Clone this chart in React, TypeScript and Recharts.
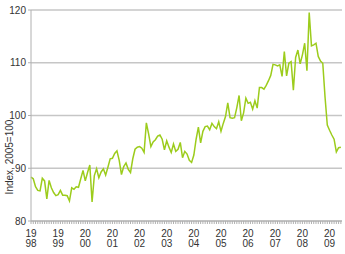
import { CartesianGrid, Line, LineChart, XAxis, YAxis } from "recharts";

// monthly index values, Jan 1998 .. Jun 2009
const values = [
  88.3, 88.0, 86.5, 85.8, 85.7, 88.1, 87.6, 84.2, 87.7, 86.3, 85.4, 84.8,
  85.0, 85.8, 84.9, 84.9, 84.8, 83.8, 86.3, 86.0, 86.5, 86.4, 88.0, 89.6,
  87.6, 89.2, 90.6, 83.6, 88.6, 89.9, 88.2, 89.3, 89.9, 88.7, 90.2, 91.8,
  91.9, 92.8, 93.3, 91.5, 88.8, 90.3, 91.0, 89.8, 89.2, 91.8, 93.6, 94.0,
  94.1, 93.8, 93.0, 98.6, 96.5, 94.1, 95.0, 95.4, 96.1, 96.3, 95.5, 93.5,
  95.2, 94.0, 93.0, 94.6, 93.2, 93.6, 94.9, 92.0, 93.2, 92.7, 91.5, 91.1,
  92.5, 95.5, 97.8, 94.8, 97.0, 97.9, 98.0, 97.3, 98.5, 97.9, 97.5, 98.8,
  97.0, 98.5, 99.8, 102.4, 99.6, 99.5, 99.6, 101.5, 103.8, 99.0, 100.5, 103.3,
  102.3, 102.5, 101.2, 102.8, 101.4, 105.3, 105.3, 105.0, 105.7, 106.6, 107.6, 109.7,
  109.6, 109.4, 109.6, 107.4, 112.1, 107.5, 109.9, 110.2, 104.8, 111.0, 112.4, 109.8,
  111.5, 113.7, 108.5, 119.5, 113.2, 113.4, 113.7, 111.2, 110.3, 109.9, 103.5, 98.2,
  97.2, 96.3, 95.5, 93.1, 93.9, 94.0,
];

const years = ["1998", "1999", "2000", "2001", "2002", "2003", "2004", "2005", "2006", "2007", "2008", "2009"];
const yTicks = [80, 90, 100, 110, 120];

const data = values.map((v, i) => ({ m: i, v }));
const monthTicks = values.map((_, i) => i);

const font = "'Liberation Sans', Arial, sans-serif";

function YearTick(props: any) {
  const { x, payload } = props;
  if (payload.value % 12 !== 0) return <g />;
  const yr = years[payload.value / 12];
  return (
    <text x={x} textAnchor="middle" fontSize={10} fill="#333" fontFamily={font}>
      <tspan x={x} y={237}>{yr.slice(0, 2)}</tspan>
      <tspan x={x} y={247}>{yr.slice(2)}</tspan>
    </text>
  );
}

export default function App() {
  return (
    <div style={{ position: "absolute", left: 0, top: 0, background: "#fff" }}>
      <LineChart
        width={345}
        height={254}
        data={data}
        margin={{ top: 10, right: 3, bottom: 0, left: 0 }}
      >
        <CartesianGrid vertical={false} stroke="#c6c6c6" strokeWidth={1.5} />
        <XAxis
          dataKey="m"
          type="number"
          domain={[0, 137.5]}
          ticks={monthTicks}
          interval={0}
          height={33}
          tick={<YearTick />}
          tickSize={3}
          axisLine={{ stroke: "#b0b0b0" }}
          tickLine={{ stroke: "#b0b0b0" }}
        />
        <YAxis
          domain={[80, 120]}
          ticks={yTicks}
          width={31}
          tickLine={{ stroke: "#b0b0b0" }}
          tickSize={3}
          axisLine={{ stroke: "#b0b0b0" }}
          tick={{ fontSize: 10, fill: "#333", fontFamily: font }}
          label={{
            content: () => (
              <text
                x={0}
                y={0}
                transform="translate(9,157) rotate(-90)"
                textAnchor="middle"
                dominantBaseline="central"
                fontSize={10}
                fill="#333"
                fontFamily={font}
              >
                Index, 2005=100
              </text>
            ),
          }}
        />
        <Line
          dataKey="v"
          stroke="#9ccc1c"
          strokeWidth={1.5}
          dot={false}
          isAnimationActive={false}
        />
      </LineChart>
    </div>
  );
}
